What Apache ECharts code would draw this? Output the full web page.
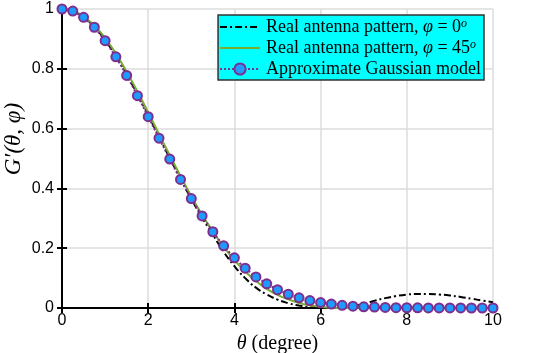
<!DOCTYPE html>
<html>
<head>
<meta charset="utf-8">
<script src="https://cdn.jsdelivr.net/npm/echarts@6/dist/echarts.min.js"></script>
<style>
  html, body { margin: 0; padding: 0; background: #fff; }
  #ec { width: 548px; height: 353px; }
</style>
</head>
<body>
<div id="ec"></div>
<script>
// theta (degree), step 0.25
var theta = [0, 0.25, 0.5, 0.75, 1, 1.25, 1.5, 1.75, 2, 2.25, 2.5, 2.75, 3, 3.25, 3.5, 3.75,
  4, 4.25, 4.5, 4.75, 5, 5.25, 5.5, 5.75, 6, 6.25, 6.5, 6.75, 7, 7.25, 7.5, 7.75,
  8, 8.25, 8.5, 8.75, 9, 9.25, 9.5, 9.75, 10];

// real antenna pattern, phi = 0
var real0 = [1, 0.993, 0.973, 0.94, 0.896, 0.843, 0.782, 0.715, 0.645, 0.573, 0.502, 0.432,
  0.365, 0.302, 0.245, 0.188, 0.14, 0.10, 0.068, 0.045, 0.028, 0.016, 0.008, 0.003,
  0.0005, 0.0002, 0.001, 0.006, 0.014, 0.024, 0.033, 0.040, 0.045, 0.047, 0.047, 0.045,
  0.042, 0.037, 0.031, 0.025, 0.019];

// real antenna pattern, phi = 45
var real45 = [1, 0.994, 0.975, 0.945, 0.903, 0.851, 0.79, 0.724, 0.654, 0.582, 0.511, 0.441,
  0.374, 0.312, 0.256, 0.205, 0.16, 0.122, 0.09, 0.064, 0.044, 0.029, 0.017, 0.009,
  0.004, 0.001, 0.0002, 0.0005, 0.001, 0.0015, 0.002, 0.002, 0.002, 0.002, 0.002, 0.0015,
  0.0015, 0.001, 0.001, 0.001, 0.0005];

// approximate gaussian model
var gauss = [1, 0.993, 0.972, 0.939, 0.894, 0.84, 0.778, 0.71, 0.64, 0.568, 0.498, 0.43,
  0.366, 0.308, 0.255, 0.208, 0.168, 0.133, 0.104, 0.081, 0.061, 0.046, 0.034, 0.025,
  0.018, 0.013, 0.009, 0.006, 0.004, 0.003, 0.002, 0.0012, 0.0008, 0.0005, 0.0003, 0.0002,
  0.0001, 0.0001, 0, 0, 0];

var xTicks = [0, 2, 4, 6, 8, 10];
var yTicks = [0, 0.2, 0.4, 0.6, 0.8, 1];

function pairs(ys) {
  return theta.map(function (t, i) { return [t, ys[i]]; });
}

var myChart = echarts.init(document.getElementById('ec'));

var serif = '"Liberation Serif", "DejaVu Serif", serif';
var sans = '"Liberation Sans", Arial, sans-serif';

var tickLabel = { color: '#000', fontFamily: sans, fontSize: 16 };
var legRich = {
  n: { fontFamily: serif, fontSize: 18, lineHeight: 18, color: '#000' },
  i: { fontFamily: serif, fontSize: 18, lineHeight: 18, fontStyle: 'italic', color: '#000' },
  s: { fontFamily: serif, fontSize: 12, lineHeight: 18, fontStyle: 'italic', color: '#000', verticalAlign: 'top', padding: [0, 0, 8, 0] }
};

var option = {
  animation: false,
  grid: { left: 62, right: 55, top: 9, bottom: 45, containLabel: false, outerBoundsMode: 'none' },
  legend: {
    right: 64,
    top: 15,
    orient: 'vertical',
    backgroundColor: '#00ffff',
    borderColor: '#333',
    borderWidth: 1.5,
    borderRadius: 0,
    padding: [3, 3, 2, 1],
    itemGap: 1,
    itemWidth: 40,
    itemHeight: 14,
    data: [
      { name: 'phi0', itemStyle: { opacity: 0 } },
      { name: 'phi45', itemStyle: { opacity: 0 } },
      { name: 'gauss' }
    ],
    formatter: function (name) {
      if (name === 'phi0') return '{n|Real antenna pattern, }{i|φ}{n| = 0}{s|o}';
      if (name === 'phi45') return '{n|Real antenna pattern, }{i|φ}{n| = 45}{s|o}';
      return '{n|Approximate Gaussian model}';
    },
    textStyle: { rich: legRich, padding: [0, 0, 0, 1] }
  },
  xAxis: [{
    type: 'value', min: 0, max: 10, interval: 2,
    name: '{i|θ}{n| (degree)}',
    nameLocation: 'middle', nameGap: 19,
    nameTextStyle: { rich: { i: { fontFamily: serif, fontSize: 20, fontStyle: 'italic' }, n: { fontFamily: serif, fontSize: 20 } } },
    axisLine: { lineStyle: { color: '#000', width: 2 } },
    axisTick: { inside: true, length: 5, lineStyle: { color: '#000', width: 2 } },
    axisLabel: Object.assign({ margin: 5, formatter: function (v) { return xTicks.indexOf(v) >= 0 ? String(v) : ''; } }, tickLabel),
    splitLine: { show: true, lineStyle: { color: '#dcdcdc', width: 1.5 } }
  }, {
    type: 'value', min: 0, max: 10, interval: 2, position: 'top',
    axisLine: { lineStyle: { color: '#000', width: 2 } },
    axisTick: { inside: true, length: 5, lineStyle: { color: '#000', width: 2 } },
    axisLabel: { show: false },
    splitLine: { show: false }
  }],
  yAxis: [{
    type: 'value', min: 0, max: 1, interval: 0.2,
    axisLine: { show: true, lineStyle: { color: '#000', width: 2 } },
    axisTick: { show: true, inside: true, length: 5, lineStyle: { color: '#000', width: 2 } },
    axisLabel: Object.assign({ margin: 8, formatter: function (v) {
      var r = Math.round(v * 10) / 10;
      return yTicks.indexOf(r) >= 0 ? String(r) : '';
    } }, tickLabel),
    splitLine: { show: true, lineStyle: { color: '#dcdcdc', width: 1.5 } }
  }, {
    type: 'value', min: 0, max: 1, interval: 0.2, position: 'right',
    axisLine: { show: true, lineStyle: { color: '#000', width: 2 } },
    axisTick: { show: true, inside: true, length: 5, lineStyle: { color: '#000', width: 2 } },
    axisLabel: { show: false },
    splitLine: { show: false }
  }],
  graphic: [{
    type: 'text',
    x: 14, y: 139,
    rotation: Math.PI / 2,
    style: {
      text: '{i|G′}{i|(θ, φ)}',
      rich: { i: { fontFamily: serif, fontSize: 23, fontStyle: 'italic', fill: '#000' } },
      align: 'center', verticalAlign: 'middle'
    }
  }],
  series: [{
    name: 'phi0', type: 'line', data: pairs(real0), smooth: true,
    showSymbol: false, symbol: 'none',
    lineStyle: { color: '#000', width: 2, type: [7, 3, 2, 3] },
    itemStyle: { color: '#000' }
  }, {
    name: 'phi45', type: 'line', data: pairs(real45), smooth: true,
    showSymbol: false, symbol: 'none',
    lineStyle: { color: '#77AC30', width: 2 },
    itemStyle: { color: '#77AC30' }
  }, {
    name: 'gauss', type: 'line', data: pairs(gauss),
    symbol: 'circle', symbolSize: 9, showSymbol: true,
    lineStyle: { color: '#7E2F8E', width: 2, type: [2, 2] },
    itemStyle: { color: '#1E9BFF', borderColor: '#7E2F8E', borderWidth: 2 }
  }]
};

myChart.setOption(option);
</script>
</body>
</html>
